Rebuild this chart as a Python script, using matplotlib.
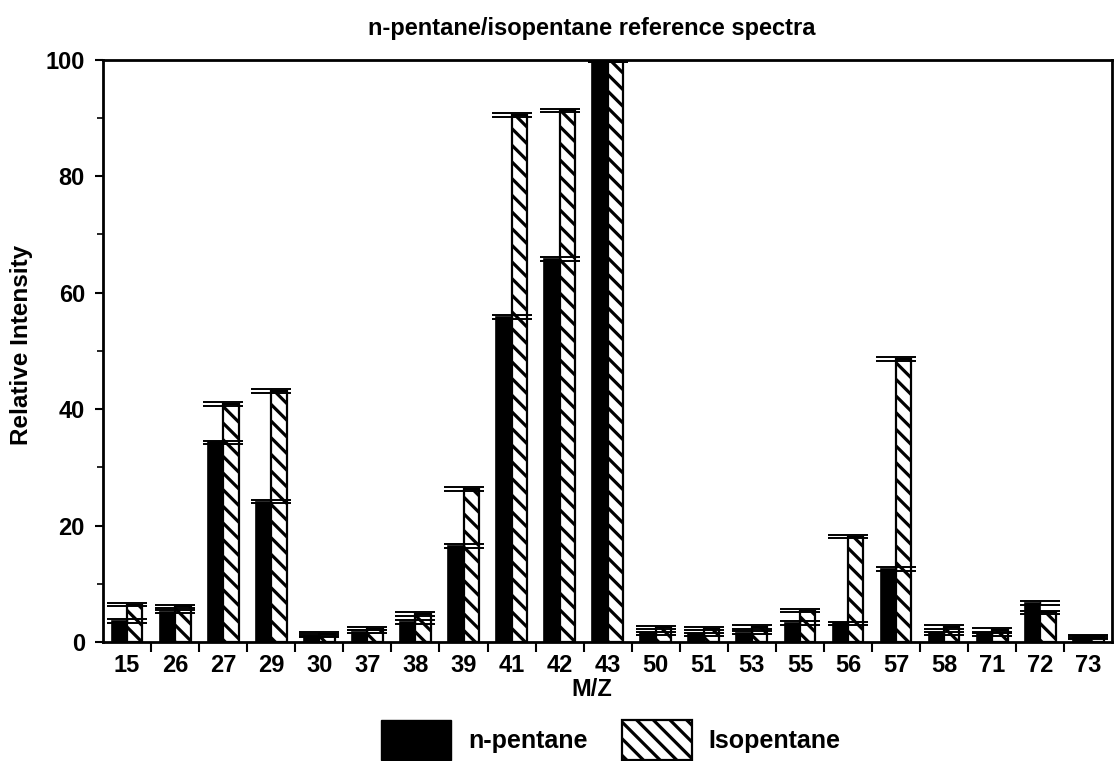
import matplotlib
matplotlib.use("Agg")
import matplotlib.pyplot as plt
import numpy as np
from matplotlib.patches import Patch

# Mass-to-charge channels and relative intensities (base peak m/z 43 = 100)
mz_labels = ["15", "26", "27", "29", "30", "37", "38", "39", "41", "42", "43",
             "50", "51", "53", "55", "56", "57", "58", "71", "72", "73"]
n_pentane = [3.6, 5.2, 34.3, 24.1, 1.1, 1.8, 3.4, 16.5, 55.8, 65.8, 100.0,
             1.5, 1.3, 1.6, 3.3, 3.2, 12.5, 1.5, 1.3, 6.7, 0.8]
isopentane = [6.4, 6.1, 40.9, 43.1, 1.4, 2.3, 4.8, 26.3, 90.5, 91.3, 100.0,
              2.5, 2.3, 2.6, 5.4, 18.1, 48.6, 2.6, 2.1, 5.1, 0.9]
n_pentane_err = [0.3] * len(mz_labels)
isopentane_err = [0.3] * len(mz_labels)

plt.rcParams["font.family"] = ["Liberation Sans", "DejaVu Sans"]
plt.rcParams["font.weight"] = "bold"
plt.rcParams["hatch.linewidth"] = 2.3
plt.rcParams["hatch.color"] = "black"

HATCH = "\\\\"

fig = plt.figure(figsize=(11.14, 7.61), dpi=100)
ax = fig.add_axes([0.0925, 0.1564, 0.906, 0.765])

x = np.arange(len(mz_labels))
w = 0.32
ax.bar(x - w / 2, n_pentane, w, color="black", edgecolor="black", linewidth=1.2, zorder=2)
ax.bar(x + w / 2, isopentane, w, color="white", edgecolor="black", hatch=HATCH,
       linewidth=1.6, zorder=2)
ax.errorbar(x, n_pentane, yerr=n_pentane_err, fmt="none", ecolor="black",
            capsize=14.5, capthick=1.4, elinewidth=1.0, zorder=3)
ax.errorbar(x, isopentane, yerr=isopentane_err, fmt="none", ecolor="black",
            capsize=14.5, capthick=1.4, elinewidth=1.0, zorder=3)

ax.set_xlim(-0.5, len(mz_labels) - 0.5)
ax.set_ylim(0, 100)

ax.set_xticks(x)
ax.set_xticklabels(mz_labels, fontsize=17, fontweight="bold")
ax.set_xticks(x[:-1] + 0.5, minor=True)
ax.tick_params(axis="x", which="major", length=0, pad=9)
ax.tick_params(axis="x", which="minor", length=7, width=1.5, direction="out")

ax.set_yticks([0, 20, 40, 60, 80, 100])
ax.set_yticklabels(["0", "20", "40", "60", "80", "100"], fontsize=17, fontweight="bold")
ax.set_yticks([10, 30, 50, 70, 90], minor=True)
ax.tick_params(axis="y", which="major", length=6, width=1.5, direction="out", pad=7)
ax.tick_params(axis="y", which="minor", length=4, width=1.2, direction="out")

for side in ["left", "bottom", "top", "right"]:
    ax.spines[side].set_linewidth(2.0)

fig.text(592 / 1114, 1 - 28 / 761, "n-pentane/isopentane reference spectra",
         ha="center", va="center", fontsize=17, fontweight="bold")
fig.text(22 / 1114, 1 - 345 / 761, "Relative Intensity", rotation=90,
         ha="center", va="center", fontsize=17.5, fontweight="bold")
fig.text(592 / 1114, 1 - 690 / 761, "M/Z", ha="center", va="center",
         fontsize=17, fontweight="bold")

handles = [Patch(facecolor="black", edgecolor="black"),
           Patch(facecolor="white", edgecolor="black", hatch=HATCH, linewidth=1.6)]
fig.legend(handles, ["n-pentane", "Isopentane"], loc="center",
           bbox_to_anchor=(611 / 1114, 1 - 740 / 761), ncol=2, frameon=False,
           handlelength=2.8, handleheight=2.1, handletextpad=0.68,
           columnspacing=1.36, borderpad=0.0, prop={"size": 18, "weight": "bold"})

fig.savefig("out.png", dpi=100, facecolor="white")
